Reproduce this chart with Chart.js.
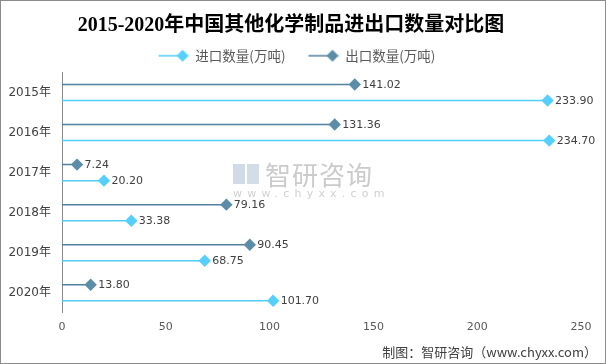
<!DOCTYPE html>
<html>
<head>
<meta charset="utf-8">
<script src="https://cdn.jsdelivr.net/npm/chart.js@4/dist/chart.umd.min.js"></script>
<style>
  html, body { margin: 0; padding: 0; background: #fff; }
  #wrap { position: relative; width: 604px; height: 362px; border: 1px solid #8c8c8c; overflow: hidden; }
  #chart { display: block; }
  .wm { position: absolute; pointer-events: none; font-family: "Noto Sans CJK SC", sans-serif; }
  #wmText { left: 264px; top: 158px; font-size: 26px; color: #cbcbcb; letter-spacing: 1px; line-height: 30px; }
  #wmUrl { left: 232px; top: 186px; font-size: 11px; color: #d0d0d0; letter-spacing: 5.2px; font-family: "DejaVu Sans", sans-serif; line-height: 14px; }
  #wmLogoA { left: 232px; top: 163px; width: 12px; height: 20px; background: #cfdbe9; }
  #wmLogoB { left: 246px; top: 163px; width: 12px; height: 20px; background: #d3dde8; }
  #footer { position: absolute; right: 8px; top: 341px; font-size: 13px; color: #404040; font-family: "Noto Sans CJK SC", sans-serif; }
</style>
</head>
<body>
<div id="wrap">
  <canvas id="chart" width="604" height="362"></canvas>
  <div class="wm" id="wmLogoA"></div>
  <div class="wm" id="wmLogoB"></div>
  <div class="wm" id="wmText">智研咨询</div>
  <div class="wm" id="wmUrl">www.chyxx.com</div>
  <div id="footer">制图：智研咨询（www.chyxx.com）</div>
</div>
<script>
  // ── data ────────────────────────────────────────────────
  const years = ['2015年', '2016年', '2017年', '2018年', '2019年', '2020年'];
  const exportQty = [141.02, 131.36, 7.24, 79.16, 90.45, 13.80];   // 出口数量(万吨)
  const importQty = [233.90, 234.70, 20.20, 33.38, 68.75, 101.70]; // 进口数量(万吨)
  const xMax = 250;
  const xStep = 50;

  const EXPORT_LINE = '#52819e';
  const EXPORT_MARK = '#5b8ca8';
  const IMPORT_LINE = '#4fcdf7';
  const IMPORT_MARK = '#55cffc';

  function drawDiamond(ctx, x, y, r, color) {
    ctx.beginPath();
    ctx.moveTo(x, y - r);
    ctx.lineTo(x + r, y);
    ctx.lineTo(x, y + r);
    ctx.lineTo(x - r, y);
    ctx.closePath();
    ctx.fillStyle = color;
    ctx.fill();
  }

  // legend icon: blank lead, short line + diamond
  function legendIcon(lineColor, markColor) {
    const c = document.createElement('canvas');
    c.width = 42; c.height = 14;
    const g = c.getContext('2d');
    g.strokeStyle = lineColor;
    g.lineWidth = 1.5;
    g.beginPath(); g.moveTo(12, 7); g.lineTo(36, 7); g.stroke();
    drawDiamond(g, 36, 7, 6, markColor);
    return c;
  }

  // diamonds + value labels at the end of each bar
  const lollipopPlugin = {
    id: 'lollipop',
    afterDatasetsDraw(chart) {
      const ctx = chart.ctx;
      ctx.save();
      chart.data.datasets.forEach((ds, di) => {
        const meta = chart.getDatasetMeta(di);
        meta.data.forEach((bar, i) => {
          drawDiamond(ctx, bar.x, bar.y, 6.2, ds.markColor);
          ctx.fillStyle = '#404040';
          ctx.font = '11px "DejaVu Sans", sans-serif';
          ctx.textAlign = 'left';
          ctx.textBaseline = 'middle';
          ctx.fillText(ds.data[i].toFixed(2), bar.x + 7.5, bar.y + 0.5);
        });
      });
      ctx.restore();
    }
  };

  new Chart(document.getElementById('chart'), {
    type: 'bar',
    data: {
      labels: years,
      datasets: [
        { label: '出口数量(万吨)', data: exportQty, backgroundColor: EXPORT_LINE, markColor: EXPORT_MARK },
        { label: '进口数量(万吨)', data: importQty, backgroundColor: IMPORT_LINE, markColor: IMPORT_MARK }
      ]
    },
    options: {
      indexAxis: 'y',
      responsive: false,
      animation: false,
      devicePixelRatio: 1,
      maxBarThickness: 1.5,
      categoryPercentage: 0.8,
      barPercentage: 0.9,
      layout: { padding: { left: 0, right: 24, bottom: 21 } },
      plugins: {
        title: {
          display: true,
          text: '2015-2020年中国其他化学制品进出口数量对比图',
          color: '#000',
          font: { size: 20, weight: 'bold', family: '"Liberation Serif", "Noto Sans CJK SC", serif' },
          padding: { top: 13, bottom: 0 }
        },
        legend: {
          display: true,
          position: 'top',
          labels: {
            usePointStyle: true,
            pointStyleWidth: 42,
            padding: 11,
            color: '#595959',
            font: { size: 13.5, family: '"Noto Sans CJK SC", sans-serif' },
            generateLabels() {
              return [
                { text: '进口数量(万吨)', pointStyle: legendIcon(IMPORT_LINE, IMPORT_MARK), fillStyle: IMPORT_LINE, strokeStyle: IMPORT_LINE, lineWidth: 0, hidden: false, datasetIndex: 1, fontColor: '#595959' },
                { text: '出口数量(万吨)', pointStyle: legendIcon(EXPORT_LINE, EXPORT_MARK), fillStyle: EXPORT_LINE, strokeStyle: EXPORT_LINE, lineWidth: 0, hidden: false, datasetIndex: 0, fontColor: '#595959' }
              ];
            }
          }
        },
        tooltip: { enabled: false }
      },
      scales: {
        x: {
          min: 0,
          max: xMax,
          ticks: { stepSize: xStep, color: '#595959', padding: 8, font: { size: 11, family: '"DejaVu Sans", sans-serif' } },
          grid: { display: false, drawTicks: false },
          border: { display: false }
        },
        y: {
          ticks: { color: '#404040', padding: 11, font: { size: 12, family: '"DejaVu Sans", "Noto Sans CJK SC", sans-serif' } },
          grid: { display: false, drawTicks: false },
          border: { display: true, color: '#8c8c8c', width: 1 },
          afterFit(scale) { scale.width = 61; }
        }
      }
    },
    plugins: [lollipopPlugin]
  });
</script>
</body>
</html>
